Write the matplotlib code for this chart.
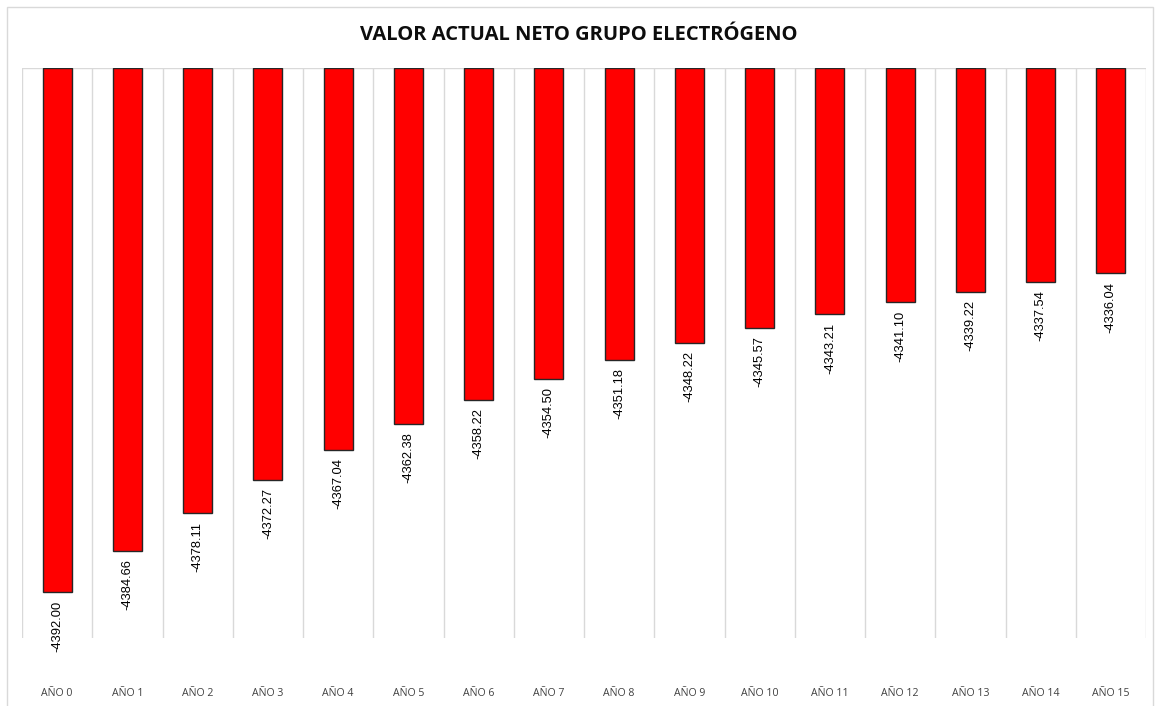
import matplotlib
matplotlib.use("Agg")
import matplotlib.pyplot as plt
from matplotlib.patches import Rectangle

categories = ["AÑO 0", "AÑO 1", "AÑO 2", "AÑO 3", "AÑO 4", "AÑO 5", "AÑO 6", "AÑO 7",
              "AÑO 8", "AÑO 9", "AÑO 10", "AÑO 11", "AÑO 12", "AÑO 13", "AÑO 14", "AÑO 15"]
van = [-4392.00, -4384.66, -4378.11, -4372.27, -4367.04, -4362.38, -4358.22, -4354.50,
       -4351.18, -4348.22, -4345.57, -4343.21, -4341.10, -4339.22, -4337.54, -4336.04]
title = "VALOR ACTUAL NETO GRUPO ELECTRÓGENO"

W, H = 1155, 706
fig = plt.figure(figsize=(W / 100, H / 100), dpi=100)
fig.patch.set_facecolor("white")

# outer chart frame
fig.add_artist(Rectangle((7 / W, -0.01), (1153 - 7) / W, 1 - 7 / H + 0.01,
                         transform=fig.transFigure, fill=False,
                         edgecolor="#d9d9d9", linewidth=1.0))

ax = fig.add_axes([22 / W, 1 - 638 / H, (1146 - 22) / W, (638 - 68) / H])
x = list(range(len(categories)))
ax.set_xlim(-0.5, len(categories) - 0.5)
ax.set_ylim(-4400, -4300)

# category separators and top gridline
for b in range(len(categories) + 1):
    ax.axvline(b - 0.5, color="#d9d9d9", linewidth=1.0, zorder=0)
ax.axhline(-4300, color="#d9d9d9", linewidth=1.0, zorder=0)

bars = ax.bar(x, [v + 4300 for v in van], bottom=-4300, width=0.41,
              color="#ff0000", edgecolor="#262626", linewidth=1.0, zorder=2)

for xi, v in zip(x, van):
    ax.annotate(f"{v:.2f}", xy=(xi, v), xytext=(0, -6), textcoords="offset points",
                rotation=90, ha="center", va="top", fontsize=9.3,
                family="Liberation Sans", color="black", annotation_clip=False)

for s in ax.spines.values():
    s.set_visible(False)
ax.set_yticks([])
ax.set_xticks(x)
ax.set_xticklabels(categories, fontsize=7.6, color="#404040", family="Open Sans")
ax.tick_params(axis="x", length=0, pad=36)

fig.text(0.5015, 1 - 35 / H, title, ha="center", va="center", fontsize=14.5,
         fontweight="bold", family="Open Sans", color="#0d0d0d")

fig.savefig("out.png", dpi=100, facecolor="white")
